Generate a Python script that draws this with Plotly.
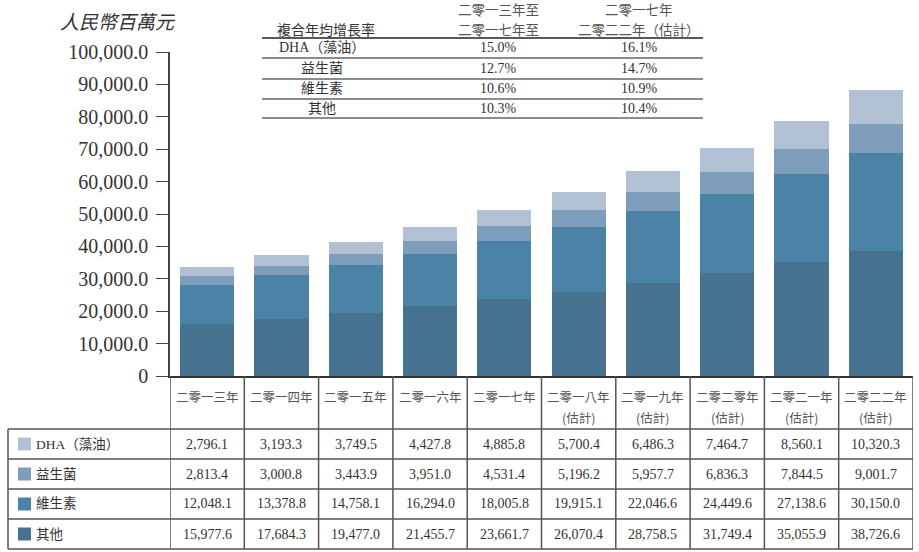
import plotly.graph_objects as go

W, H = 919, 552

# ---------------- data ----------------
years = ["二零一三年", "二零一四年", "二零一五年", "二零一六年", "二零一七年",
         "二零一八年", "二零一九年", "二零二零年", "二零二一年", "二零二二年"]
estimated = [False, False, False, False, False, True, True, True, True, True]

series_names = ["DHA（藻油）", "益生菌", "維生素", "其他"]
dha = [2796.1, 3193.3, 3749.5, 4427.8, 4885.8, 5700.4, 6486.3, 7464.7, 8560.1, 10320.3]
probiotics = [2813.4, 3000.8, 3443.9, 3951.0, 4531.4, 5196.2, 5957.7, 6836.3, 7844.5, 9001.7]
vitamins = [12048.1, 13378.8, 14758.1, 16294.0, 18005.8, 19915.1, 22046.6, 24449.6, 27138.6, 30150.0]
others = [15977.6, 17684.3, 19477.0, 21455.7, 23661.7, 26070.4, 28758.5, 31749.4, 35055.9, 38726.6]

ytick_vals = [0, 10000, 20000, 30000, 40000, 50000, 60000, 70000, 80000, 90000, 100000]
ytick_text = ["0", "10,000.0", "20,000.0", "30,000.0", "40,000.0", "50,000.0",
              "60,000.0", "70,000.0", "80,000.0", "90,000.0", "100,000.0"]

cagr_title = "複合年均增長率"
cagr_head1 = ["二零一三年至", "二零一七年至"]
cagr_head2 = ["二零一七年", "二零二二年（估計）"]
cagr_13_17 = ["15.0%", "12.7%", "10.6%", "10.3%"]
cagr_17_22 = ["16.1%", "14.7%", "10.9%", "10.4%"]

# ---------------- style ----------------
colors = {"DHA（藻油）": "#b2c2d4", "益生菌": "#7d9dba", "維生素": "#4a83a6", "其他": "#46728f"}
SERIF = "Liberation Serif, Noto Sans CJK TC, serif"
CJK = "Noto Sans CJK TC, Liberation Serif, sans-serif"
TXT = "#333333"
LINE = "#555555"


def px(x):
    return x / W


def py(y):
    return 1 - y / H


X0, X1 = 170, 913
Y0, YTOP = 376, 52

fig = go.Figure()
stack = [("其他", others), ("維生素", vitamins), ("益生菌", probiotics), ("DHA（藻油）", dha)]
for name, vals in stack:
    fig.add_trace(go.Bar(x=list(range(len(years))), y=vals, name=name,
                         marker=dict(color=colors[name], line=dict(width=0)),
                         hoverinfo="y+name"))

shapes = []
annotations = []


def note(x, y, text, font, xref="paper", xanchor="center"):
    annotations.append(dict(x=x, y=y, xref=xref, yref="paper", text=text, showarrow=False,
                            xanchor=xanchor, yanchor="middle", font=font))


# y axis title
note(px(118), py(20), "<i>人民幣百萬元</i>", dict(family=CJK, size=19, color=TXT))

# ---- data table under the chart ----
row_y = [429, 459, 489, 519, 549]
for yy in row_y:
    shapes.append(dict(type="line", xref="paper", yref="paper", x0=px(8), x1=px(X1),
                       y0=py(yy), y1=py(yy), line=dict(color=LINE, width=1.5)))
shapes.append(dict(type="line", xref="paper", yref="paper", x0=px(8), x1=px(8),
                   y0=py(429), y1=py(549), line=dict(color=LINE, width=1.5)))
for i in range(len(years) + 1):
    shapes.append(dict(type="line", xref="x", yref="paper", x0=i - 0.5, x1=i - 0.5,
                       y0=py(Y0), y1=py(549), line=dict(color=LINE, width=1.5)))

for i, (yr, est) in enumerate(zip(years, estimated)):
    note(i, py(396), yr, dict(family=CJK, size=12.5, color="#555555"), xref="x")
    if est:
        note(i, py(417), "(估計)", dict(family=CJK, size=12.5, color="#555555"), xref="x")

table_rows = [("DHA（藻油）", dha), ("益生菌", probiotics), ("維生素", vitamins), ("其他", others)]
for r, (name, vals) in enumerate(table_rows):
    yc = (row_y[r] + row_y[r + 1]) / 2
    shapes.append(dict(type="rect", xref="paper", yref="paper", x0=px(18), x1=px(31),
                       y0=py(yc - 6.5), y1=py(yc + 6.5), line=dict(width=0),
                       fillcolor=colors[name]))
    note(px(34), py(yc), name, dict(family=SERIF, size=13.5, color=TXT), xanchor="left")
    for i, v in enumerate(vals):
        note(i, py(yc), f"{v:,.1f}", dict(family=SERIF, size=14, color=TXT), xref="x")

# ---- CAGR table at top ----
CL, CR = 262, 703
c_label, c_1, c_2 = 322, 498, 639
note(px(275), py(29), cagr_title, dict(family=CJK, size=14, color=TXT), xanchor="left")
for cx, h1, h2 in zip([c_1, c_2], [cagr_head1[0], cagr_head2[0]], [cagr_head1[1], cagr_head2[1]]):
    note(px(cx), py(9), h1, dict(family=CJK, size=13.5, color="#555555"))
    note(px(cx), py(29), h2, dict(family=CJK, size=13.5, color="#555555"))
cagr_lines = [38, 58, 79, 99, 118]
for k, yy in enumerate(cagr_lines):
    shapes.append(dict(type="line", xref="paper", yref="paper", x0=px(CL), x1=px(CR),
                       y0=py(yy), y1=py(yy),
                       line=dict(color="#222222" if k == 0 else "#666666", width=1.6)))
for r, name in enumerate(series_names):
    yc = (cagr_lines[r] + cagr_lines[r + 1]) / 2
    note(px(c_label), py(yc), name, dict(family=SERIF, size=14, color=TXT))
    note(px(c_1), py(yc), cagr_13_17[r], dict(family=SERIF, size=14, color=TXT))
    note(px(c_2), py(yc), cagr_17_22[r], dict(family=SERIF, size=14, color=TXT))

fig.update_layout(
    width=W, height=H, autosize=False,
    margin=dict(l=0, r=0, t=0, b=0, pad=0, autoexpand=False),
    paper_bgcolor="white", plot_bgcolor="white",
    barmode="stack", bargap=0.27,
    showlegend=False,
    xaxis=dict(domain=[px(X0), px(X1)], range=[-0.5, len(years) - 0.5],
               showticklabels=False, ticks="", showgrid=False, zeroline=False, automargin=False,
               showline=True, linecolor="#333333", linewidth=1.5, fixedrange=True),
    yaxis=dict(domain=[py(Y0), py(YTOP)], range=[0, 100000], automargin=False,
               tickvals=ytick_vals, ticktext=ytick_text,
               ticks="outside", ticklen=12, tickcolor="#444444", tickwidth=1.3,
               ticklabelstandoff=4,
               tickfont=dict(family=SERIF, size=20, color=TXT),
               showgrid=False, zeroline=False,
               showline=True, linecolor="#444444", linewidth=1.5, fixedrange=True),
    shapes=shapes, annotations=annotations,
)

fig.write_html("out.html")
